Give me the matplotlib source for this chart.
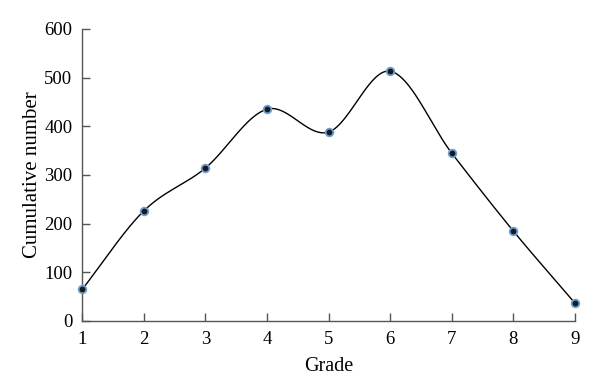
import numpy as np
import matplotlib.pyplot as plt

grade = [1, 2, 3, 4, 5, 6, 7, 8, 9]
cumulative = [65, 226, 314, 435, 388, 513, 345, 185, 37]


def catmull_rom(x, y, n=40):
    # smooth curve through the points (Excel style smoothing)
    x = np.asarray(x, float)
    y = np.asarray(y, float)
    px = np.concatenate([[2 * x[0] - x[1]], x, [2 * x[-1] - x[-2]]])
    py = np.concatenate([[2 * y[0] - y[1]], y, [2 * y[-1] - y[-2]]])
    xs, ys = [], []
    t = np.linspace(0, 1, n)
    for i in range(1, len(px) - 2):
        for arr, out in ((px, xs), (py, ys)):
            p0, p1, p2, p3 = arr[i - 1], arr[i], arr[i + 1], arr[i + 2]
            out.append(0.5 * ((2 * p1) + (-p0 + p2) * t
                              + (2 * p0 - 5 * p1 + 4 * p2 - p3) * t ** 2
                              + (-p0 + 3 * p1 - 3 * p2 + p3) * t ** 3))
    return np.concatenate(xs), np.concatenate(ys)


plt.rcParams['font.family'] = ['Liberation Serif', 'DejaVu Serif']

fig = plt.figure(figsize=(6, 3.9), dpi=100)
ax = fig.add_axes([0.137, 0.177, 0.821, 0.749])

sx, sy = catmull_rom(grade, cumulative)
ax.plot(sx, sy, color="black", linewidth=1.0, clip_on=False)
ax.plot(grade, cumulative, linestyle="none", marker="o", markersize=5.5,
        markerfacecolor="#1a1a1a", markeredgecolor="#6b9fd6", markeredgewidth=1.3,
        clip_on=False, zorder=3)

ax.set_xlim(1, 9)
ax.set_ylim(0, 600)
ax.set_xticks(grade)
ax.set_yticks(range(0, 601, 100))

for side in ("top", "right"):
    ax.spines[side].set_visible(False)
for side in ("left", "bottom"):
    ax.spines[side].set_color("#555555")
    ax.spines[side].set_linewidth(1.0)

ax.tick_params(direction="in", length=6, width=1, color="#555555",
               labelsize=13.5, pad=7)
ax.set_xlabel("Grade", fontsize=14.5, labelpad=7)
ax.set_ylabel("Cumulative number", fontsize=15, labelpad=2)

fig.savefig("out.png", dpi=100)
